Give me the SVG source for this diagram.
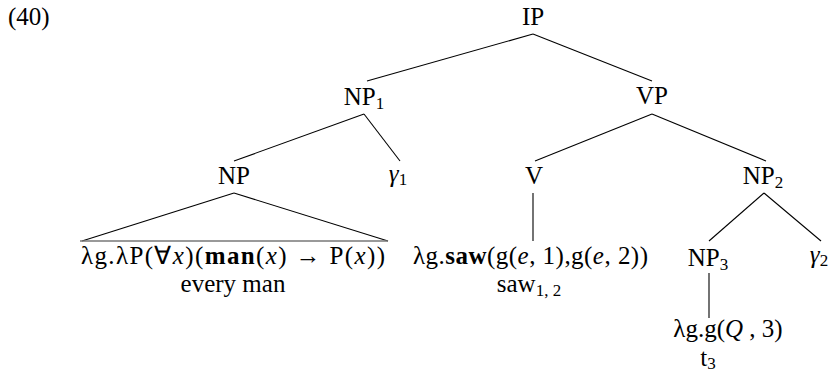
<svg xmlns="http://www.w3.org/2000/svg" width="832" height="381" viewBox="0 0 832 381">
<style>
text{font-family:"Liberation Serif","Times New Roman",serif;font-size:25px;fill:#000}
.m{text-anchor:middle}
.s{font-size:17px}
.i{font-style:italic}
.b{font-weight:bold}
.e line{stroke:#000;stroke-width:1.1}
</style>
<rect width="832" height="381" fill="#fff"/>
<text x="8" y="25">(40)</text>
<g class="e" id="connectors">
<line x1="533" y1="34" x2="367" y2="81"/>
<line x1="533" y1="34" x2="652" y2="81"/>
<line x1="364" y1="114" x2="234" y2="161"/>
<line x1="364" y1="114" x2="400" y2="161"/>
<line x1="652" y1="114" x2="535" y2="161"/>
<line x1="652" y1="114" x2="766" y2="161"/>
<line x1="234" y1="193" x2="82" y2="241"/>
<line x1="234" y1="193" x2="388" y2="241"/>
<line x1="533" y1="193" x2="533" y2="241"/>
<line x1="764" y1="193" x2="709" y2="241"/>
<line x1="764" y1="193" x2="821" y2="241"/>
<line x1="709" y1="273" x2="709" y2="318"/>
</g>
<g id="IP"><text class="m" x="533" y="25">IP</text></g>
<g id="NP1"><text class="m" x="364" y="105">NP<tspan class="s" dy="4">1</tspan></text></g>
<g id="VP"><text class="m" x="652" y="104">VP</text></g>
<g id="NP"><text class="m" x="234" y="184">NP</text></g>
<g id="gamma1"><text class="m" x="398" y="182"><tspan class="i">γ</tspan><tspan class="s" dy="3">1</tspan></text></g>
<g id="V"><text class="m" x="534" y="184">V</text></g>
<g id="NP2"><text class="m" x="763" y="184">NP<tspan class="s" dy="4">2</tspan></text></g>
<g id="NPleaf">
<line x1="80" y1="241" x2="388" y2="241" stroke="#777" stroke-width="1.6"/>
<text x="81" y="264" textLength="304" lengthAdjust="spacing">λg.λP(∀<tspan class="i">x</tspan>)(<tspan class="b">man</tspan>(<tspan class="i">x</tspan>) → P(<tspan class="i">x</tspan>))</text>
<text class="m" x="233" y="292">every man</text>
</g>
<g id="Vleaf">
<text x="413" y="264" textLength="235" lengthAdjust="spacing">λg.<tspan class="b">saw</tspan>(g(<tspan class="i">e</tspan>, 1),g(<tspan class="i">e</tspan>, 2))</text>
<text class="m" x="529" y="292">saw<tspan class="s" dy="4">1, 2</tspan></text>
</g>
<g id="NP3"><text class="m" x="708" y="266">NP<tspan class="s" dy="4">3</tspan></text></g>
<g id="gamma2"><text class="m" x="819" y="263"><tspan class="i">γ</tspan><tspan class="s" dy="3">2</tspan></text></g>
<g id="NP3leaf">
<text class="m" x="728" y="337">λg.g(<tspan class="i">Q</tspan> , 3)</text>
<text class="m" x="708" y="366">t<tspan class="s" dy="3">3</tspan></text>
</g>
</svg>
